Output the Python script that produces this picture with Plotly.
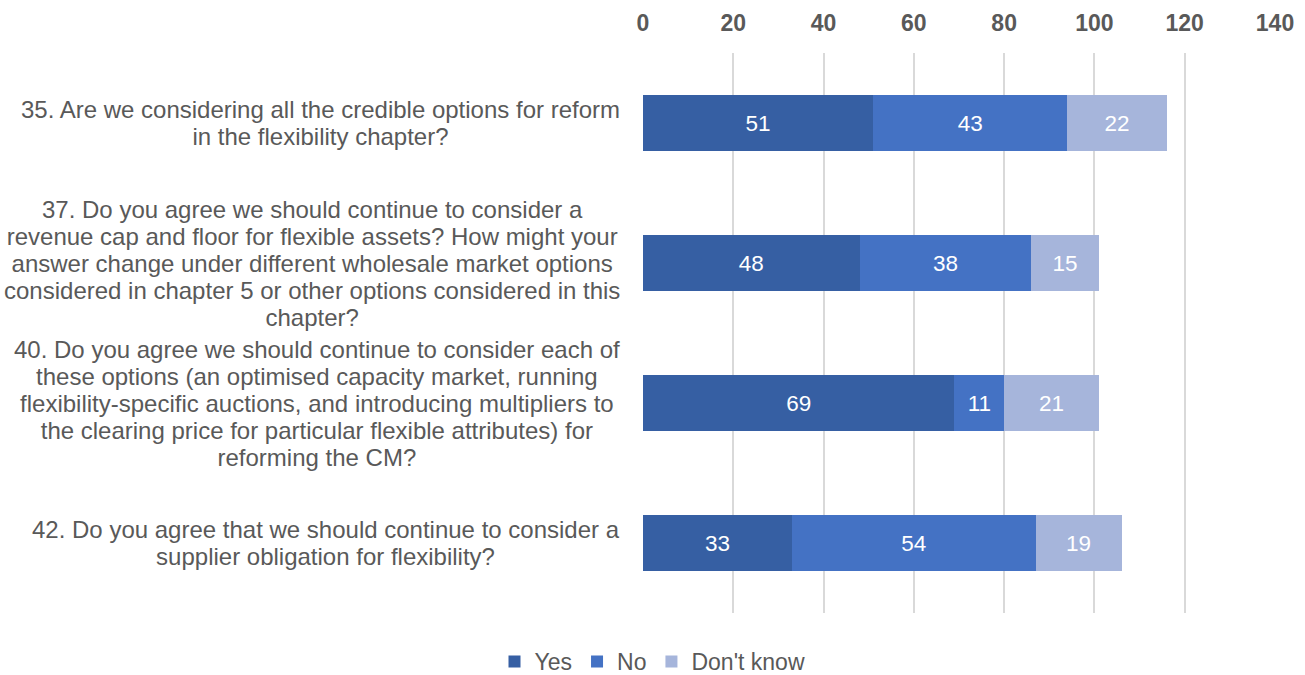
import plotly.graph_objects as go

# Survey questions (top to bottom), one list of text lines per question
questions = [
    ["35. Are we considering all the credible options for reform",
     "in the flexibility chapter?"],
    ["37. Do you agree we should continue to consider a",
     "revenue cap and floor for flexible assets? How might your",
     "answer change under different wholesale market options",
     "considered in chapter 5 or other options considered in this",
     "chapter?"],
    ["40. Do you agree we should continue to consider each of",
     "these options (an optimised capacity market, running",
     "flexibility-specific auctions, and introducing multipliers to",
     "the clearing price for particular flexible attributes) for",
     "reforming the CM?"],
    ["42. Do you agree that we should continue to consider a",
     "supplier obligation for flexibility?"],
]
question_ids = ["Q35", "Q37", "Q40", "Q42"]

yes = [51, 48, 69, 33]
no = [43, 38, 11, 54]
dont_know = [22, 15, 21, 19]

x_ticks = [0, 20, 40, 60, 80, 100, 120, 140]

series = [
    ("Yes", yes, "#365FA3"),
    ("No", no, "#4472C4"),
    ("Don't know", dont_know, "#A6B5DB"),
]

FONT = "Arial, Liberation Sans"
GREY = "#595959"

fig = go.Figure()
for name, vals, color in series:
    fig.add_trace(go.Bar(
        y=question_ids,
        x=vals,
        name=name,
        orientation="h",
        marker=dict(color=color, line=dict(width=0)),
        text=vals,
        texttemplate="%{x}",
        textposition="inside",
        insidetextanchor="middle",
        textfont=dict(family=FONT, size=22.5, color="white"),
        constraintext="none",
    ))

# Question text: centred lines in a block right-aligned beside the bars.
# The annotation font sets the line pitch (1.3 em ~ 27 px); the inner span
# sets the glyph size.
LABEL_PX = 24
PITCH_FONT = 27 / 1.3
for qid, lines in zip(question_ids, questions):
    text = "<br>".join(
        f"<span style='font-size:{LABEL_PX}px'>{line}</span>" for line in lines
    )
    fig.add_annotation(
        x=0, xref="paper", xanchor="right", xshift=-21,
        y=qid, yref="y", yanchor="middle",
        text=text, showarrow=False, align="center",
        font=dict(family=FONT, size=PITCH_FONT, color=GREY),
    )

fig.update_layout(
    barmode="stack",
    bargap=0.6,
    width=1305, height=675,
    margin=dict(l=643, r=30, t=53, b=62, autoexpand=False),
    paper_bgcolor="white",
    plot_bgcolor="white",
    font=dict(family=FONT, color=GREY),
    xaxis=dict(
        side="top",
        range=[0, 140],
        tickvals=x_ticks,
        ticktext=[f"<b>{t}</b>" for t in x_ticks],
        tickfont=dict(family=FONT, size=23, color=GREY),
        ticklabelstandoff=16,
        automargin=False,
        showgrid=True, gridcolor="#D9D9D9", gridwidth=1.5,
        zeroline=False, showline=False, ticks="",
    ),
    yaxis=dict(
        categoryorder="array",
        categoryarray=question_ids,
        autorange="reversed",
        automargin=False,
        showticklabels=False,
        showgrid=False, zeroline=False, showline=False, ticks="",
    ),
    legend=dict(
        orientation="h",
        xref="container", yref="container",
        x=0.5, xanchor="center",
        y=0.02, yanchor="middle",
        font=dict(family=FONT, size=23, color=GREY),
        itemwidth=30,
        traceorder="normal",
    ),
    showlegend=True,
)

fig.write_html("out.html")
